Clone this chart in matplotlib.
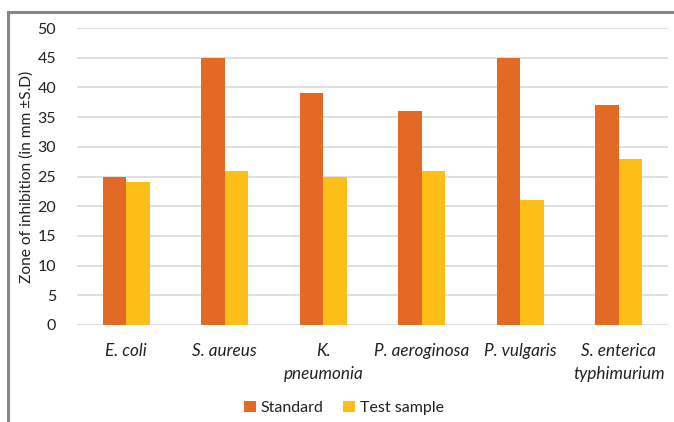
import matplotlib
matplotlib.use("Agg")
import matplotlib.pyplot as plt
from matplotlib.lines import Line2D
import numpy as np

plt.rcParams['font.family'] = ['Lato', 'DejaVu Sans']

organisms = ["E. coli", "S. aureus", "K.\npneumonia", "P. aeroginosa",
             "P. vulgaris", "S. enterica\ntyphimurium"]
standard = [25, 45, 39, 36, 45, 37]
test_sample = [24, 26, 25, 26, 21, 28]
yticks = [0, 5, 10, 15, 20, 25, 30, 35, 40, 45, 50]

W, H = 674, 422
fig = plt.figure(figsize=(W / 100, H / 100), dpi=100)
ax = fig.add_axes([77 / W, 1 - 325 / H, (668 - 77) / W, (325 - 28) / H])

x = np.arange(len(organisms))
bw = 0.24
ax.bar(x - bw / 2, standard, bw, color="#E36A24", label="Standard", zorder=3)
ax.bar(x + bw / 2, test_sample, bw, color="#FDBF17", label="Test sample", zorder=3)

ax.set_xlim(-0.5, len(organisms) - 0.5)
ax.set_ylim(0, 50)
ax.set_yticks(yticks)
ax.set_xticks(x)
ax.set_xticklabels(organisms, fontstyle="italic", fontsize=12.3, color="#222222",
                   linespacing=1.5)
ax.tick_params(axis="y", length=0, pad=15, labelsize=11.5, labelcolor="#222222")
ax.tick_params(axis="x", length=0, pad=13)
ax.grid(axis="y", color="#DADADA", linewidth=1.2, zorder=0)
for s in ax.spines.values():
    s.set_visible(False)

ax.set_ylabel("Zone of inhibition (in mm \u00b1S.D)", fontsize=11.2, color="#222222",
              labelpad=3)

fig.legend(loc="center", bbox_to_anchor=(344 / W, 1 - 408 / H), ncol=2,
           frameon=False, fontsize=11.5, handlelength=0.75, handleheight=0.75,
           handletextpad=0.3, columnspacing=1.2, labelcolor="#222222")

# outer chart frame
frame = dict(color="#888888", linewidth=2.2, transform=fig.transFigure)
fig.add_artist(Line2D([8 / W, 1.01], [1 - 12 / H, 1 - 12 / H], **frame))
fig.add_artist(Line2D([8 / W, 8 / W], [1 - 12 / H, -0.01], **frame))

fig.savefig("out.png", dpi=100)
